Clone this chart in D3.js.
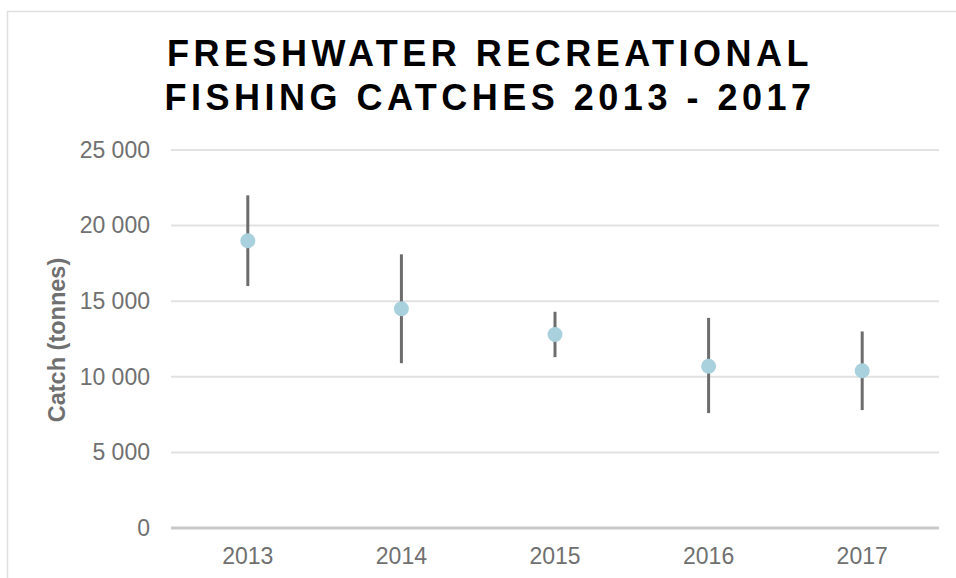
<!DOCTYPE html>
<html lang="en">
<head>
  <meta charset="UTF-8">
  <title>Freshwater recreational fishing catches</title>
  <script src="https://cdnjs.cloudflare.com/ajax/libs/d3/7.8.5/d3.min.js"></script>
  <style>
    body { margin: 0; background: #fff; }
    text { font-family: "Liberation Sans", Arial, sans-serif; }
  </style>
</head>
<body>
  <div id="chart"></div>
  <script>
    // data
    var years = ["2013", "2014", "2015", "2016", "2017"];
    var catches = [19000, 14500, 12800, 10700, 10400];
    var upper = [22000, 18100, 14300, 13900, 13000];
    var lower = [16000, 10900, 11300, 7600, 7800];
    var yTicks = [0, 5000, 10000, 15000, 20000, 25000];
    var titleLines = ["FRESHWATER RECREATIONAL", "FISHING CATCHES 2013 - 2017"];

    var W = 956, H = 578;
    var margin = {top: 150, right: 17, bottom: 50, left: 171},
        width = W - margin.left - margin.right,
        height = 528 - margin.top;

    var svg = d3.select("#chart").append("svg")
        .attr("width", W)
        .attr("height", H);

    // chart frame
    svg.append("rect")
        .attr("x", 7.5).attr("y", 11.5)
        .attr("width", 980).attr("height", 600)
        .attr("fill", "none")
        .attr("stroke", "#e0e0e0")
        .attr("stroke-width", 1.5);

    // title
    svg.append("g").selectAll("text")
        .data(titleLines)
      .enter().append("text")
        .attr("x", 490)
        .attr("y", function(d, i) { return 66 + i * 43.5; })
        .attr("text-anchor", "middle")
        .style("font-size", "36px")
        .style("font-weight", "bold")
        .style("letter-spacing", "4.5px")
        .attr("fill", "#000")
        .text(function(d) { return d; });

    var g = svg.append("g")
        .attr("transform", "translate(" + margin.left + "," + margin.top + ")");

    var x = d3.scaleBand().domain(years).range([0, width]);
    var y = d3.scaleLinear().domain([0, 25000]).range([height, 0]);

    var fmt = function(d) { return d3.format(",")(d).replace(/,/g, " "); };

    // gridlines
    g.selectAll(".grid")
        .data(yTicks.filter(function(d) { return d > 0; }))
      .enter().append("line")
        .attr("x1", 0).attr("x2", width)
        .attr("y1", function(d) { return y(d); })
        .attr("y2", function(d) { return y(d); })
        .attr("stroke", "#e2e2e2")
        .attr("stroke-width", 2);

    // y axis labels
    var yAxis = g.append("g")
        .call(d3.axisLeft(y).tickValues(yTicks).tickFormat(fmt).tickSize(0).tickPadding(21));
    yAxis.select(".domain").remove();
    yAxis.selectAll("text")
        .style("font-size", "23px")
        .style("font-family", "'Liberation Sans', Arial, sans-serif")
        .attr("fill", "#707070");

    // baseline
    g.append("line")
        .attr("x1", 0).attr("x2", width)
        .attr("y1", y(0)).attr("y2", y(0))
        .attr("stroke", "#c9c9c9")
        .attr("stroke-width", 3);

    // x axis labels
    var xAxis = g.append("g")
        .attr("transform", "translate(0," + height + ")")
        .call(d3.axisBottom(x).tickSize(0).tickPadding(20));
    xAxis.select(".domain").remove();
    xAxis.selectAll("text")
        .style("font-size", "23px")
        .style("font-family", "'Liberation Sans', Arial, sans-serif")
        .attr("fill", "#707070");

    // y axis title
    svg.append("text")
        .attr("transform", "translate(65,340) rotate(-90)")
        .attr("text-anchor", "middle")
        .style("font-size", "23.5px")
        .style("font-weight", "bold")
        .attr("fill", "#707070")
        .text("Catch (tonnes)");

    var cx = function(d, i) { return x(years[i]) + x.bandwidth() / 2; };

    // error bars
    g.selectAll(".err")
        .data(years)
      .enter().append("line")
        .attr("x1", cx).attr("x2", cx)
        .attr("y1", function(d, i) { return y(upper[i]); })
        .attr("y2", function(d, i) { return y(lower[i]); })
        .attr("stroke", "#6d6d6d")
        .attr("stroke-width", 3);

    // points
    g.selectAll(".dot")
        .data(catches)
      .enter().append("circle")
        .attr("cx", cx)
        .attr("cy", function(d) { return y(d); })
        .attr("r", 7.5)
        .attr("fill", "#a8d0dd");
  </script>
</body>
</html>
